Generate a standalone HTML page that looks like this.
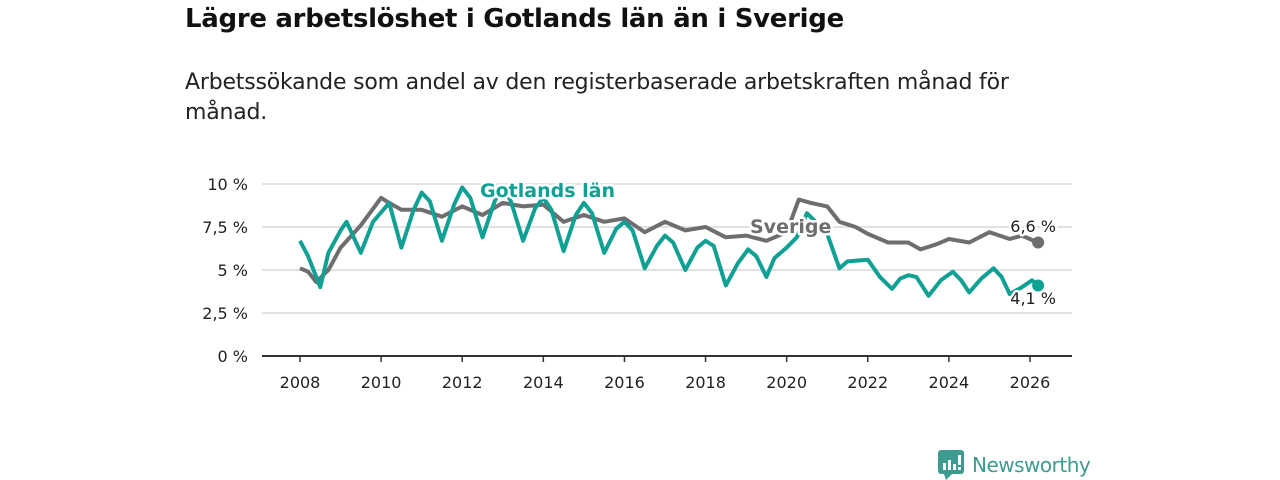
<!DOCTYPE html>
<html><head><meta charset="utf-8">
<style>
body{margin:0;background:#fff;font-family:"Liberation Sans","DejaVu Sans",sans-serif;}
#wrap{position:relative;width:1280px;height:480px;overflow:hidden;}
h1{position:absolute;left:185px;top:4px;margin:0;font-size:26px;font-weight:bold;color:#111;font-family:"DejaVu Sans","Liberation Sans",sans-serif;letter-spacing:-0.3px}
p{position:absolute;left:185px;top:68px;margin:0;font-size:22px;line-height:30px;color:#222;width:860px;font-family:"DejaVu Sans","Liberation Sans",sans-serif;letter-spacing:-0.2px}
svg text{font-family:"DejaVu Sans","Liberation Sans",sans-serif}
</style></head><body>
<div id="wrap">
<h1>Lägre arbetslöshet i Gotlands län än i Sverige</h1>
<p>Arbetssökande som andel av den registerbaserade arbetskraften månad för månad.</p>
<svg id="chart" width="1280" height="480" style="position:absolute;left:0;top:0"></svg>
<div style="position:absolute;left:938px;top:450px;display:flex;align-items:center">
<svg width="26" height="30"><rect x="0" y="0" width="26" height="24" rx="3" fill="#3d9b8f"/><polygon points="6,24 14,24 8,30" fill="#3d9b8f"/><rect x="5" y="13" width="3" height="7" fill="#fff"/><rect x="10" y="10" width="3" height="10" fill="#fff"/><rect x="15" y="14" width="3" height="6" fill="#fff"/><rect x="20" y="5" width="3" height="10" fill="#fff"/><rect x="20" y="17" width="3" height="3" fill="#fff"/></svg>
<span style="margin-left:8px;font-size:20px;color:#3d9b8f;font-family:'DejaVu Sans','Liberation Sans',sans-serif;letter-spacing:-0.5px">Newsworthy</span>
</div>
</div>
<script>
const yTicks=[0,2.5,5,7.5,10];
const yTickLabels=["0 %","2,5 %","5 %","7,5 %","10 %"];
const xTicks=[2008,2010,2012,2014,2016,2018,2020,2022,2024,2026];
const gotTimes=[2008.0,2008.2,2008.5,2008.7,2009.0,2009.15,2009.5,2009.8,2010.2,2010.5,2010.8,2011.0,2011.2,2011.5,2011.8,2012.0,2012.2,2012.5,2012.8,2013.0,2013.2,2013.5,2013.8,2014.0,2014.2,2014.5,2014.8,2015.0,2015.2,2015.5,2015.8,2016.0,2016.2,2016.5,2016.8,2017.0,2017.2,2017.5,2017.8,2018.0,2018.2,2018.5,2018.8,2019.05,2019.25,2019.5,2019.7,2020.0,2020.25,2020.5,2020.8,2021.0,2021.3,2021.5,2022.0,2022.3,2022.6,2022.8,2023.0,2023.2,2023.5,2023.8,2024.1,2024.3,2024.5,2024.8,2025.1,2025.3,2025.5,2025.8,2026.05,2026.2];
const gotValues=[6.7,5.8,4.0,6.0,7.3,7.8,6.0,7.8,8.9,6.3,8.5,9.5,9.0,6.7,8.8,9.8,9.2,6.9,9.0,9.8,9.0,6.7,8.6,9.2,8.5,6.1,8.2,8.9,8.3,6.0,7.4,7.8,7.3,5.1,6.4,7.0,6.6,5.0,6.3,6.7,6.4,4.1,5.4,6.2,5.8,4.6,5.7,6.3,6.9,8.3,7.6,7.1,5.1,5.5,5.6,4.6,3.9,4.5,4.7,4.6,3.5,4.4,4.9,4.4,3.7,4.5,5.1,4.6,3.6,4.0,4.4,4.1];
const sveTimes=[2008.0,2008.2,2008.4,2008.7,2009.0,2009.5,2010.0,2010.2,2010.5,2011.0,2011.5,2012.0,2012.5,2013.0,2013.5,2014.0,2014.5,2015.0,2015.5,2016.0,2016.5,2017.0,2017.5,2018.0,2018.5,2019.0,2019.5,2020.0,2020.3,2020.6,2021.0,2021.3,2021.7,2022.0,2022.5,2023.0,2023.3,2023.7,2024.0,2024.5,2025.0,2025.5,2025.8,2026.2];
const sveValues=[5.1,4.9,4.3,5.0,6.3,7.6,9.2,8.9,8.5,8.5,8.1,8.7,8.2,8.9,8.7,8.8,7.8,8.2,7.8,8.0,7.2,7.8,7.3,7.5,6.9,7.0,6.7,7.2,9.1,8.9,8.7,7.8,7.5,7.1,6.6,6.6,6.2,6.5,6.8,6.6,7.2,6.8,7.0,6.6];
const svg=document.getElementById('chart');
const NS='http://www.w3.org/2000/svg';
const X=t=>300+(t-2008)*(730/18);
const Y=v=>356-v*17.2;
function mk(tag,attrs,parent){const e=document.createElementNS(NS,tag);for(const k in attrs)e.setAttribute(k,attrs[k]);(parent||svg).appendChild(e);return e;}
yTicks.forEach((v,i)=>{
  if(v>0){const g=mk('line',{x1:262,x2:1072,y1:Y(v),y2:Y(v),stroke:'#d9d9d9','stroke-width':1.5});
  
  }
  const t=mk('text',{x:248,y:Y(v)+6,'text-anchor':'end','font-size':16,fill:'#222'});t.textContent=yTickLabels[i];
  
  
});
const ax=mk('line',{x1:262,x2:1072,y1:Y(0),y2:Y(0),stroke:'#333','stroke-width':2});


xTicks.forEach(t=>{
  const l=mk('line',{x1:X(t),x2:X(t),y1:Y(0),y2:Y(0)+6,stroke:'#333','stroke-width':1.5});
  
  
  const tx=mk('text',{x:X(t),y:388,'text-anchor':'middle','font-size':16,fill:'#222'});tx.textContent=t;
  
  
});
function path(ts,vs){return ts.map((t,i)=>(i?'L':'M')+X(t).toFixed(1)+','+Y(vs[i]).toFixed(1)).join('');}
const sl=mk('path',{d:path(sveTimes,sveValues),fill:'none',stroke:'#6f6d6f','stroke-width':4,'stroke-linejoin':'round'});


const gl=mk('path',{d:path(gotTimes,gotValues),fill:'none',stroke:'#10a094','stroke-width':4,'stroke-linejoin':'round'});


const sd=mk('circle',{cx:X(sveTimes[sveTimes.length-1]),cy:Y(sveValues[sveValues.length-1]),r:6,fill:'#6f6d6f'});


const gd=mk('circle',{cx:X(gotTimes[gotTimes.length-1]),cy:Y(gotValues[gotValues.length-1]),r:6,fill:'#10a094'});


function lab(txt,x,y,fill,size,weight,anchor){const t=mk('text',{x:x,y:y,'font-size':size,'font-weight':weight,fill:fill,stroke:'#fff','stroke-width':5,'paint-order':'stroke','stroke-linejoin':'round','text-anchor':anchor||'start'});t.textContent=txt;return t;}
const l1=lab('Gotlands län',480,197,'#10a094',19,'bold');


const l2=lab('Sverige',750,233,'#6f6d6f',19,'bold');


const l3=lab('6,6 %',1056,232,'#222',16,'normal','end');


const l4=lab('4,1 %',1056,304,'#222',16,'normal','end');


</script>
</body></html>
